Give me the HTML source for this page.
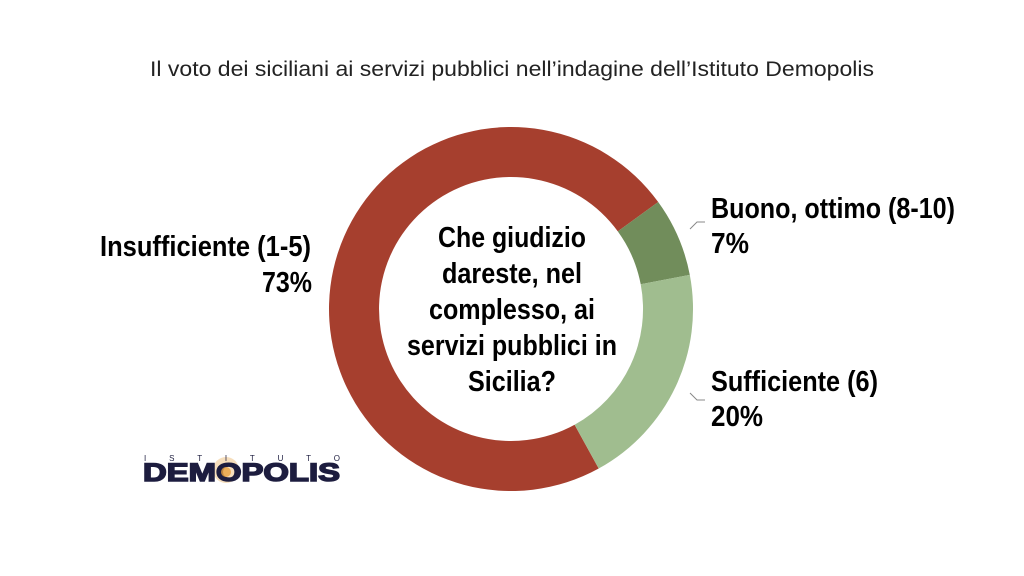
<!DOCTYPE html>
<html><head><meta charset="utf-8"><style>
html,body{margin:0;padding:0;background:#fff;}
svg{display:block;}
.b{font-family:"Liberation Sans",sans-serif;font-weight:bold;font-size:29px;fill:#000;}
</style></head><body>
<svg width="1024" height="576" viewBox="0 0 1024 576" xmlns="http://www.w3.org/2000/svg">
<text x="150" y="76" font-family="Liberation Sans, sans-serif" font-size="21" fill="#222" textLength="724" lengthAdjust="spacingAndGlyphs">Il voto dei siciliani ai servizi pubblici nell’indagine dell’Istituto Demopolis</text>
<path d="M598.7,468.5 A182,182 0 1 1 658.2,202.0 L617.8,231.4 A132,132 0 1 0 574.6,424.7 Z" fill="#a63f2e"/>
<path d="M658.2,202.0 A182,182 0 0 1 689.8,274.9 L640.7,284.3 A132,132 0 0 0 617.8,231.4 Z" fill="#718d5b"/>
<path d="M689.8,274.9 A182,182 0 0 1 598.7,468.5 L574.6,424.7 A132,132 0 0 0 640.7,284.3 Z" fill="#a0bd8f"/>
<g class="b" text-anchor="middle">
<text x="512" y="247" textLength="148" lengthAdjust="spacingAndGlyphs">Che giudizio</text>
<text x="512" y="283" textLength="140" lengthAdjust="spacingAndGlyphs">dareste, nel</text>
<text x="512" y="319" textLength="166" lengthAdjust="spacingAndGlyphs">complesso, ai</text>
<text x="512" y="355" textLength="210" lengthAdjust="spacingAndGlyphs">servizi pubblici in</text>
<text x="512" y="391" textLength="88" lengthAdjust="spacingAndGlyphs">Sicilia?</text>
</g>
<g class="b">
<text x="100" y="256" textLength="211" lengthAdjust="spacingAndGlyphs">Insufficiente (1-5)</text>
<text x="262" y="292" textLength="50" lengthAdjust="spacingAndGlyphs">73%</text>
<text x="711" y="218" textLength="244" lengthAdjust="spacingAndGlyphs">Buono, ottimo (8-10)</text>
<text x="711" y="253" textLength="38" lengthAdjust="spacingAndGlyphs">7%</text>
<text x="711" y="391" textLength="167" lengthAdjust="spacingAndGlyphs">Sufficiente (6)</text>
<text x="711" y="426" textLength="52" lengthAdjust="spacingAndGlyphs">20%</text>
</g>
<polyline points="690,229 697,222 705,222" fill="none" stroke="#888" stroke-width="1"/>
<polyline points="690,393 697,400 705,400" fill="none" stroke="#888" stroke-width="1"/>
<circle cx="226" cy="470" r="13" fill="#f0c890" opacity="0.6"/>
<g font-family="Liberation Sans, sans-serif" fill="#1d1d3f">
<text x="144" y="461" font-size="8" textLength="196" lengthAdjust="spacing">I S T I T U T O</text>
<text x="143" y="481" font-size="25" font-weight="bold" stroke="#1d1d3f" stroke-width="1.5" textLength="197" lengthAdjust="spacingAndGlyphs">DEMOPOLIS</text>
</g>
<circle cx="226" cy="472" r="5" fill="#e8a040" opacity="0.8"/>
</svg>
</body></html>
